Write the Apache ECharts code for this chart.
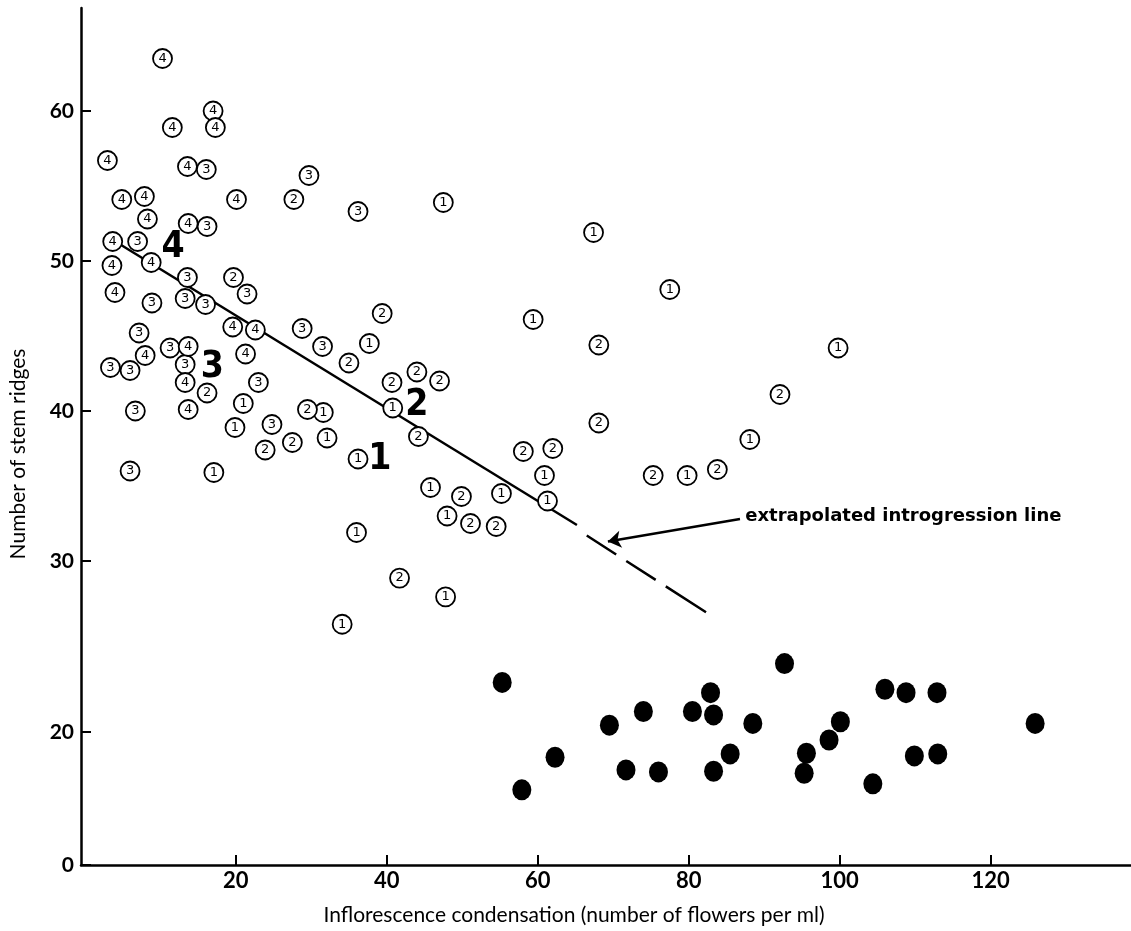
<!DOCTYPE html>
<html>
<head>
<meta charset="utf-8">
<script src="https://cdn.jsdelivr.net/npm/echarts/dist/echarts.min.js"></script>
<style>
  html, body { margin: 0; padding: 0; background: #fff; }
  #chart { width: 1131px; height: 931px; }
</style>
</head>
<body>
<div id="chart"></div>
<script>
// x tick labels and y tick labels
var xTicks = [20, 40, 60, 80, 100, 120];
var yTicks = [0, 20, 30, 40, 50, 60];

// circled-number plants, [inflorescence condensation, stem ridges]
var group1 = [[47.5,53.9],[67.4,51.9],[77.5,48.1],[59.4,46.1],[99.8,44.2],[37.7,44.5],[21.0,40.5],[40.8,40.2],
  [31.6,39.9],[19.9,38.9],[32.1,38.2],[88.1,38.1],[17.1,35.9],[36.2,36.8],[60.9,35.7],[79.8,35.7],[45.8,34.9],
  [55.2,34.5],[61.3,34.0],[48.0,33.0],[36.0,31.9],[47.8,27.9],[34.1,26.3]];
var group2 = [[27.7,54.1],[19.7,48.9],[39.4,46.5],[68.1,44.4],[35.0,43.2],[44.0,42.6],[47.0,42.0],[40.7,41.9],
  [16.2,41.2],[92.1,41.1],[29.5,40.1],[68.1,39.2],[44.2,38.3],[27.5,37.9],[23.9,37.4],[58.1,37.3],[62.0,37.5],
  [75.3,35.7],[83.8,36.1],[49.9,34.3],[51.1,32.5],[54.5,32.3],[41.7,29.0]];
var group3 = [[29.7,55.7],[16.1,56.1],[36.2,53.3],[16.2,52.3],[7.0,51.3],[13.6,48.9],[21.5,47.8],[8.9,47.2],
  [13.3,47.5],[16.0,47.1],[28.8,45.5],[31.5,44.3],[7.2,45.2],[11.3,44.2],[3.4,42.9],[6.0,42.7],[13.3,43.1],
  [23.0,41.9],[6.7,40.0],[24.8,39.1],[6.0,36.0]];
var group4 = [[10.3,63.5],[17.0,60.0],[11.6,58.9],[17.3,58.9],[3.0,56.7],[13.6,56.3],[4.9,54.1],[7.9,54.3],
  [20.1,54.1],[8.3,52.8],[13.7,52.5],[3.7,51.3],[8.8,49.9],[3.6,49.7],[4.0,47.9],[19.6,45.6],[22.6,45.4],
  [13.7,44.3],[8.0,43.7],[21.3,43.8],[13.3,41.9],[13.7,40.1]];

// black dots
var blackDots = [[55.3,22.9],[57.9,11.3],[62.3,16.2],[69.5,20.4],[74.0,21.2],[71.7,14.3],[76.0,14.0],[80.5,21.2],
  [82.9,22.3],[83.3,21.0],[83.3,14.1],[85.5,16.7],[88.5,20.5],[92.7,24.0],[95.6,16.8],[95.3,13.8],[98.6,18.8],
  [100.1,20.6],[104.4,12.2],[106.0,22.5],[108.8,22.3],[112.9,22.3],[109.9,16.4],[113.0,16.7],[125.9,20.5]];

// introgression line: solid part and extrapolated part
var lineSolid = [[4.7,51.1],[65.2,32.4]];
var lineExtra = [[66.5,31.7],[82.3,27.0]];

// big group numbers along the line
var groupLabels = [['4',11.7,50.9],['3',16.9,42.9],['2',44.0,40.4],['1',39.1,36.8]];

// arrow + note
var arrowFrom = [86.8,32.8];
var arrowTo = [69.3,31.3];
var noteText = 'extrapolated introgression line';
var notePos = [87.5,33.0];

// y axis in the print is not linear below 30: piecewise scale
var yBreakVals = [0, 20, 30, 70];
var yBreakPos = [0, 133, 304, 904];
function tY(v) {
  for (var i = 1; i < yBreakVals.length; i++) {
    if (v <= yBreakVals[i] || i == yBreakVals.length - 1) {
      var a = yBreakVals[i - 1], b = yBreakVals[i];
      return yBreakPos[i - 1] + (v - a) / (b - a) * (yBreakPos[i] - yBreakPos[i - 1]);
    }
  }
}
function toT(arr) {
  return arr.map(function (p) { return [p[0], tY(p[1])]; });
}

var yTickPos = yTicks.map(tY);

function circled(name, data) {
  return {
    name: name,
    type: 'scatter',
    data: toT(data),
    symbol: 'circle',
    symbolSize: 19,
    itemStyle: { color: '#fff', borderColor: '#000', borderWidth: 1.8, opacity: 1 },
    label: {
      show: true, position: 'inside', formatter: name,
      color: '#000', fontSize: 13, fontFamily: 'DejaVu Sans'
    },
    z: 3
  };
}

function renderChart() {
  var myChart = echarts.init(document.getElementById('chart'));
  var options = {
    backgroundColor: '#fff',
    animation: false,
    grid: { left: 81, right: 0, top: 8, bottom: 66 },
    xAxis: {
      type: 'value',
      min: -0.5,
      max: 138.6,
      splitLine: { show: false },
      axisLine: { lineStyle: { color: '#000', width: 2.5 } },
      axisTick: { customValues: xTicks, inside: true, length: 10, lineStyle: { color: '#000', width: 2 } },
      axisLabel: {
        customValues: xTicks, margin: 5, color: '#000',
        fontSize: 22, fontWeight: 'bold', fontFamily: 'Lato'
      }
    },
    yAxis: {
      type: 'value',
      min: 0,
      max: 857,
      splitLine: { show: false },
      axisLine: { onZero: false, lineStyle: { color: '#000', width: 2.5 } },
      axisTick: { customValues: yTickPos, inside: true, length: 10, lineStyle: { color: '#000', width: 2 } },
      axisLabel: {
        customValues: yTickPos, margin: 7, color: '#000',
        fontSize: 21, fontWeight: 'bold', fontFamily: 'Lato',
        formatter: function (val) {
          for (var i = 0; i < yTickPos.length; i++) {
            if (Math.abs(yTickPos[i] - val) < 0.5) return String(yTicks[i]);
          }
          return '';
        }
      }
    },
    graphic: [
      {
        type: 'text', x: 18, y: 454, rotation: Math.PI / 2,
        style: {
          text: 'Number of stem ridges', fill: '#000', font: '21px Lato',
          textAlign: 'center', textVerticalAlign: 'middle'
        }
      },
      {
        type: 'text', x: 574, y: 915,
        style: {
          text: 'Inflorescence condensation (number of flowers per ml)', fill: '#000', font: '21px Lato',
          textAlign: 'center', textVerticalAlign: 'middle'
        }
      }
    ],
    series: [
      {
        type: 'line',
        data: toT(lineSolid),
        symbol: 'none',
        lineStyle: { color: '#000', width: 2.5 },
        z: 2,
        markLine: {
          silent: true,
          symbol: ['none', 'arrow'],
          symbolSize: 13,
          lineStyle: { color: '#000', width: 2.5, type: 'solid' },
          itemStyle: { color: '#000' },
          label: { show: false },
          data: [[{ coord: [arrowFrom[0], tY(arrowFrom[1])] }, { coord: [arrowTo[0], tY(arrowTo[1])] }]]
        }
      },
      {
        type: 'line',
        data: toT(lineExtra),
        symbol: 'none',
        lineStyle: { color: '#000', width: 2.5, type: [35, 12, 35, 12, 48, 12] },
        z: 2
      },
      circled('1', group1),
      circled('2', group2),
      circled('3', group3),
      circled('4', group4),
      {
        type: 'scatter',
        data: toT(blackDots),
        symbol: 'circle',
        symbolSize: [19, 21],
        itemStyle: { color: '#000', opacity: 1 },
        z: 3
      },
      {
        type: 'scatter',
        data: groupLabels.map(function (g) { return { value: [g[1], tY(g[2])], name: g[0] }; }),
        symbolSize: 0,
        itemStyle: { opacity: 1 },
        label: {
          show: true, position: 'inside', formatter: '{b}', color: '#000',
          fontSize: 37, fontWeight: 'bold',
          fontFamily: '"Liberation Sans Narrow", "DejaVu Sans Condensed", sans-serif'
        },
        z: 4
      },
      {
        type: 'scatter',
        data: [{ value: [notePos[0], tY(notePos[1])], name: noteText }],
        symbolSize: 0,
        itemStyle: { opacity: 1 },
        label: {
          show: true, position: 'right', distance: 0, formatter: '{b}', color: '#000',
          fontSize: 18, fontWeight: 'bold', fontFamily: 'DejaVu Sans'
        },
        z: 4
      }
    ]
  };
  myChart.setOption(options, true);
}

renderChart();
</script>
</body>
</html>
